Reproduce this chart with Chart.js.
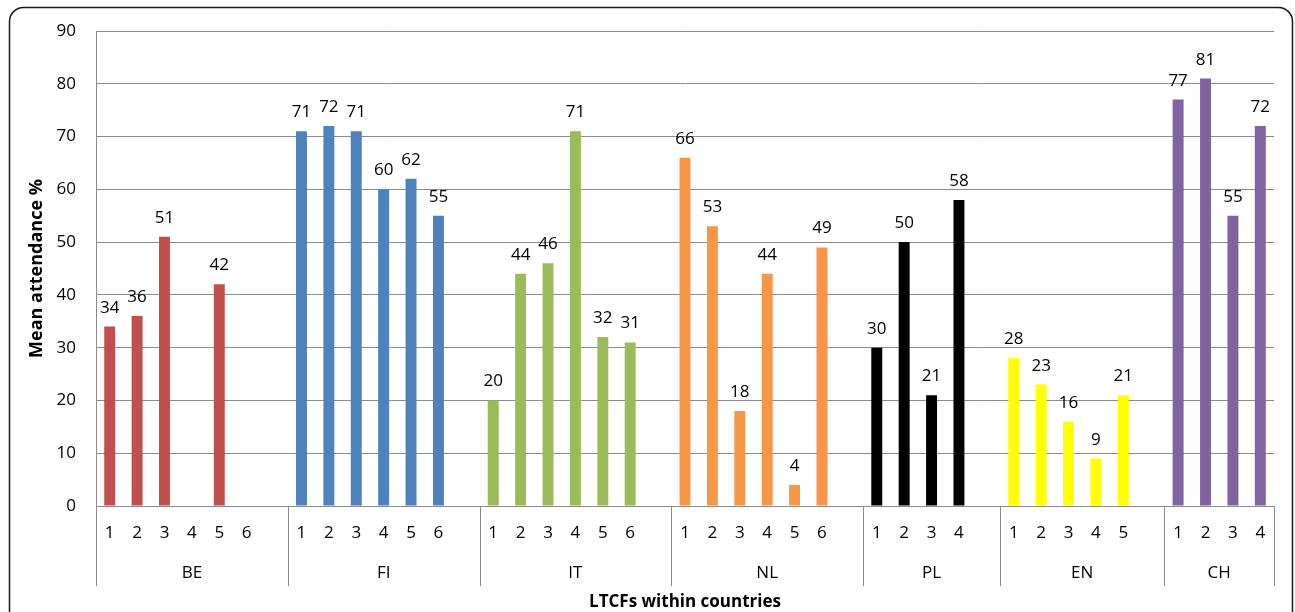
<!DOCTYPE html>
<html><head><meta charset="utf-8">
<script src="https://cdn.jsdelivr.net/npm/chart.js@4/dist/chart.umd.min.js"></script>
<style>html,body{margin:0;padding:0;background:#fff;}canvas{display:block;}</style>
</head><body>
<canvas id="c" width="1295" height="612"></canvas>
<script>
// ---- data ----
const countries = ['BE', 'FI', 'IT', 'NL', 'PL', 'EN', 'CH'];
const countryColors = ['#C0504D', '#4F81BD', '#9BBB59', '#F79646', '#000000', '#FFFF00', '#8064A2'];
const valuesBE = [34, 36, 51, null, 42, null];
const valuesFI = [71, 72, 71, 60, 62, 55];
const valuesIT = [20, 44, 46, 71, 32, 31];
const valuesNL = [66, 53, 18, 44, 4, 49];
const valuesPL = [30, 50, 21, 58];
const valuesEN = [28, 23, 16, 9, 21];
const valuesCH = [77, 81, 55, 72];
const countryValues = [valuesBE, valuesFI, valuesIT, valuesNL, valuesPL, valuesEN, valuesCH];
const yTickValues = [0, 10, 20, 30, 40, 50, 60, 70, 80, 90];
const yTitle = 'Mean attendance %';
const xTitle = 'LTCFs within countries';

// ---- build category table (each country group followed by one empty slot, like the source) ----
const labels = [], data = [], colors = [], groupIndex = [];
countryValues.forEach((vals, gi) => {
  vals.forEach((v, j) => {
    labels.push(String(j + 1)); data.push(v); colors.push(countryColors[gi]); groupIndex.push(gi);
  });
  if (gi < countryValues.length - 1) {
    labels.push(''); data.push(null); colors.push(countryColors[gi]); groupIndex.push(gi);
  }
});

const FONT = '"Open Sans", "Noto Sans", sans-serif';
const FS = 17;
const GRID = '#8c8c8c';

const borderPlugin = {
  id: 'outerBorder',
  beforeDraw(chart) {
    const ctx = chart.ctx;
    ctx.save();
    ctx.fillStyle = '#fff';
    ctx.fillRect(0, 0, chart.width, chart.height);
    ctx.strokeStyle = '#1a1a1a';
    ctx.lineWidth = 1.5;
    ctx.beginPath();
    ctx.roundRect(9.5, 7.5, 1283, 640, 14);
    ctx.stroke();
    ctx.restore();
  }
};

const groupAxisPlugin = {
  id: 'groupAxis',
  afterDraw(chart) {
    const x = chart.scales.x;
    const ctx = chart.ctx;
    const half = (x.getPixelForValue(1) - x.getPixelForValue(0)) / 2;
    const top = chart.chartArea.bottom;
    const sepBottom = 586;
    ctx.save();
    ctx.strokeStyle = GRID;
    ctx.lineWidth = 1;
    ctx.font = FS + 'px ' + FONT;
    ctx.fillStyle = '#000';
    ctx.textAlign = 'center';
    ctx.textBaseline = 'middle';
    countries.forEach((name, gi) => {
      const first = groupIndex.indexOf(gi);
      const last = groupIndex.lastIndexOf(gi);
      const l = x.getPixelForValue(first) - half;
      const r = x.getPixelForValue(last) + half;
      [l, r].forEach(px => {
        const p = Math.round(px) + 0.5;
        ctx.beginPath(); ctx.moveTo(p, top); ctx.lineTo(p, sepBottom); ctx.stroke();
      });
      ctx.fillText(name, (l + r) / 2, 573);
    });
    ctx.restore();
  }
};

const dataLabelPlugin = {
  id: 'dataLabels',
  afterDatasetsDraw(chart) {
    const ctx = chart.ctx;
    const meta = chart.getDatasetMeta(0);
    ctx.save();
    ctx.font = FS + 'px ' + FONT;
    ctx.fillStyle = '#000';
    ctx.textAlign = 'center';
    ctx.textBaseline = 'alphabetic';
    meta.data.forEach((bar, i) => {
      const v = data[i];
      if (v === null || v === undefined) return;
      ctx.fillText(String(v), bar.x, bar.y - 14);
    });
    ctx.restore();
  }
};

new Chart(document.getElementById('c'), {
  type: 'bar',
  data: {
    labels: labels,
    datasets: [{
      data: data,
      backgroundColor: colors,
      borderWidth: 0,
      barPercentage: 0.4,
      categoryPercentage: 1.0
    }]
  },
  options: {
    responsive: false,
    animation: false,
    devicePixelRatio: 1,
    layout: { padding: { top: 31, right: 21, bottom: 0, left: 0 } },
    plugins: { legend: { display: false }, tooltip: { enabled: false } },
    scales: {
      x: {
        offset: true,
        grid: { display: false, drawTicks: false },
        border: { display: true, color: GRID, width: 1 },
        ticks: { color: '#000', font: { family: FONT, size: FS }, padding: 17, autoSkip: false, maxRotation: 0 },
        title: { display: true, text: xTitle, color: '#000', font: { family: FONT, size: 17, weight: 'bold' }, padding: { top: 0, bottom: 0 } },
        afterFit(scale) { scale.height = 106; }
      },
      y: {
        min: 0, max: 90,
        afterBuildTicks(scale) { scale.ticks = yTickValues.map(v => ({ value: v })); },
        grid: { color: GRID, lineWidth: 1, drawTicks: false },
        border: { display: true, color: GRID, width: 1 },
        ticks: { color: '#000', font: { family: FONT, size: FS }, padding: 20 },
        title: { display: true, text: yTitle, color: '#000', font: { family: FONT, size: 18, weight: 'bold' }, padding: { top: 26, bottom: 0 } },
        afterFit(scale) { scale.width = 96; }
      }
    }
  },
  plugins: [borderPlugin, groupAxisPlugin, dataLabelPlugin]
});
</script>
</body></html>
